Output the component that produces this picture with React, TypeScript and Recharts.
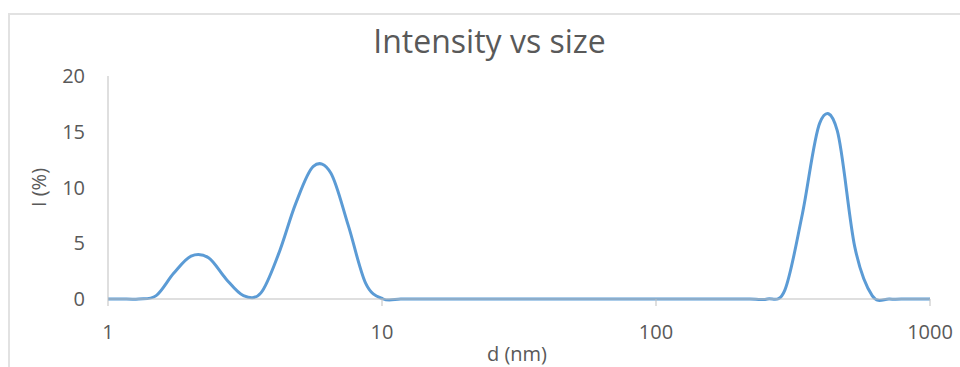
import React from 'react';
import { LineChart, Line, XAxis, YAxis, Label } from 'recharts';

// particle size bins (nm), log spaced
const sizes = [
  1, 1.117, 1.294, 1.499, 1.736, 2.01, 2.328, 2.696, 3.122, 3.615, 4.187, 4.849, 5.615,
  6.503, 7.531, 8.721, 10.1, 11.7, 13.54, 15.69, 18.17, 21.04, 24.36, 28.21, 32.67,
  37.84, 43.82, 50.75, 58.77, 68.06, 78.82, 91.28, 105.7, 122.4, 141.8, 164.2, 190.1,
  220.2, 255, 295.3, 342, 396.1, 458.7, 531.2, 615.1, 712.4, 825, 955.4, 1000,
];

// intensity (%)
const intensity = [
  0, 0, 0, 0.3, 2.3, 3.85, 3.7, 1.8, 0.3, 0.55, 4.0, 8.6, 11.9,
  11.3, 6.6, 1.4, 0, 0, 0, 0, 0, 0, 0, 0, 0,
  0, 0, 0, 0, 0, 0, 0, 0, 0, 0, 0, 0,
  0, 0, 0.8, 7.6, 15.8, 15.1, 4.7, 0.3, 0, 0, 0, 0,
];

const xTicks = [1, 10, 100, 1000];
const yTicks = [0, 5, 10, 15, 20];

const data = sizes.map((d, i) => ({ d, I: intensity[i] }));

const FONT = '"Open Sans", sans-serif';
const TEXT = '#595959';
const AXIS = '#bfbfbf';

// Excel-style smoothed line (Catmull-Rom through every point)
const excelSmooth = (context: any) => {
  let pts: [number, number][] = [];
  return {
    areaStart() {},
    areaEnd() {},
    lineStart() {
      pts = [];
    },
    lineEnd() {
      if (!pts.length) return;
      context.moveTo(pts[0][0], pts[0][1]);
      for (let i = 0; i < pts.length - 1; i++) {
        const p0 = pts[Math.max(i - 1, 0)];
        const p1 = pts[i];
        const p2 = pts[i + 1];
        const p3 = pts[Math.min(i + 2, pts.length - 1)];
        context.bezierCurveTo(
          p1[0] + (p2[0] - p0[0]) / 6,
          p1[1] + (p2[1] - p0[1]) / 6,
          p2[0] - (p3[0] - p1[0]) / 6,
          p2[1] - (p3[1] - p1[1]) / 6,
          p2[0],
          p2[1]
        );
      }
    },
    point(x: number, y: number) {
      pts.push([+x, +y]);
    },
  };
};

export default function App() {
  return (
    <div
      style={{
        position: 'absolute',
        left: 0,
        top: 0,
        width: 960,
        height: 367,
        overflow: 'hidden',
        background: '#fff',
        fontFamily: FONT,
      }}
    >
      <div
        style={{
          position: 'absolute',
          left: 8,
          top: 13,
          right: -4,
          bottom: -4,
          borderTop: '2px solid #e2e2e2',
          borderLeft: '2px solid #e2e2e2',
        }}
      />
      <div
        style={{
          position: 'absolute',
          left: 0,
          width: 979,
          top: 25,
          textAlign: 'center',
          fontSize: 32,
          lineHeight: '32px',
          color: TEXT,
        }}
      >
        Intensity vs size
      </div>
      <LineChart
        width={960}
        height={367}
        data={data}
        margin={{ top: 76, right: 30, bottom: 0, left: 0 }}
        style={{ position: 'absolute', left: 0, top: 0 }}
      >
        <XAxis
          dataKey="d"
          type="number"
          scale="log"
          domain={[1, 1000]}
          ticks={xTicks}
          allowDataOverflow
          height={68}
          stroke={AXIS}
          tickSize={7}
          tickMargin={19}
          tick={{ fill: TEXT, fontSize: 20, fontFamily: FONT }}
        >
          <Label value="d (nm)" position="center" dx={-2} dy={21} fill={TEXT} fontSize={20} fontFamily={FONT} />
        </XAxis>
        <YAxis
          type="number"
          domain={[0, 20]}
          ticks={yTicks}
          width={108}
          stroke={AXIS}
          tickLine={false}
          tickSize={0}
          tickMargin={23}
          tick={{ fill: TEXT, fontSize: 20, fontFamily: FONT }}
        >
          <Label value="I (%)" position="center" angle={-90} dx={-15} fill={TEXT} fontSize={20} fontFamily={FONT} />
        </YAxis>
        <Line
          dataKey="I"
          type={excelSmooth as any}
          stroke="#5b9bd5"
          strokeWidth={3}
          dot={false}
          activeDot={false}
          isAnimationActive={false}
        />
      </LineChart>
    </div>
  );
}
